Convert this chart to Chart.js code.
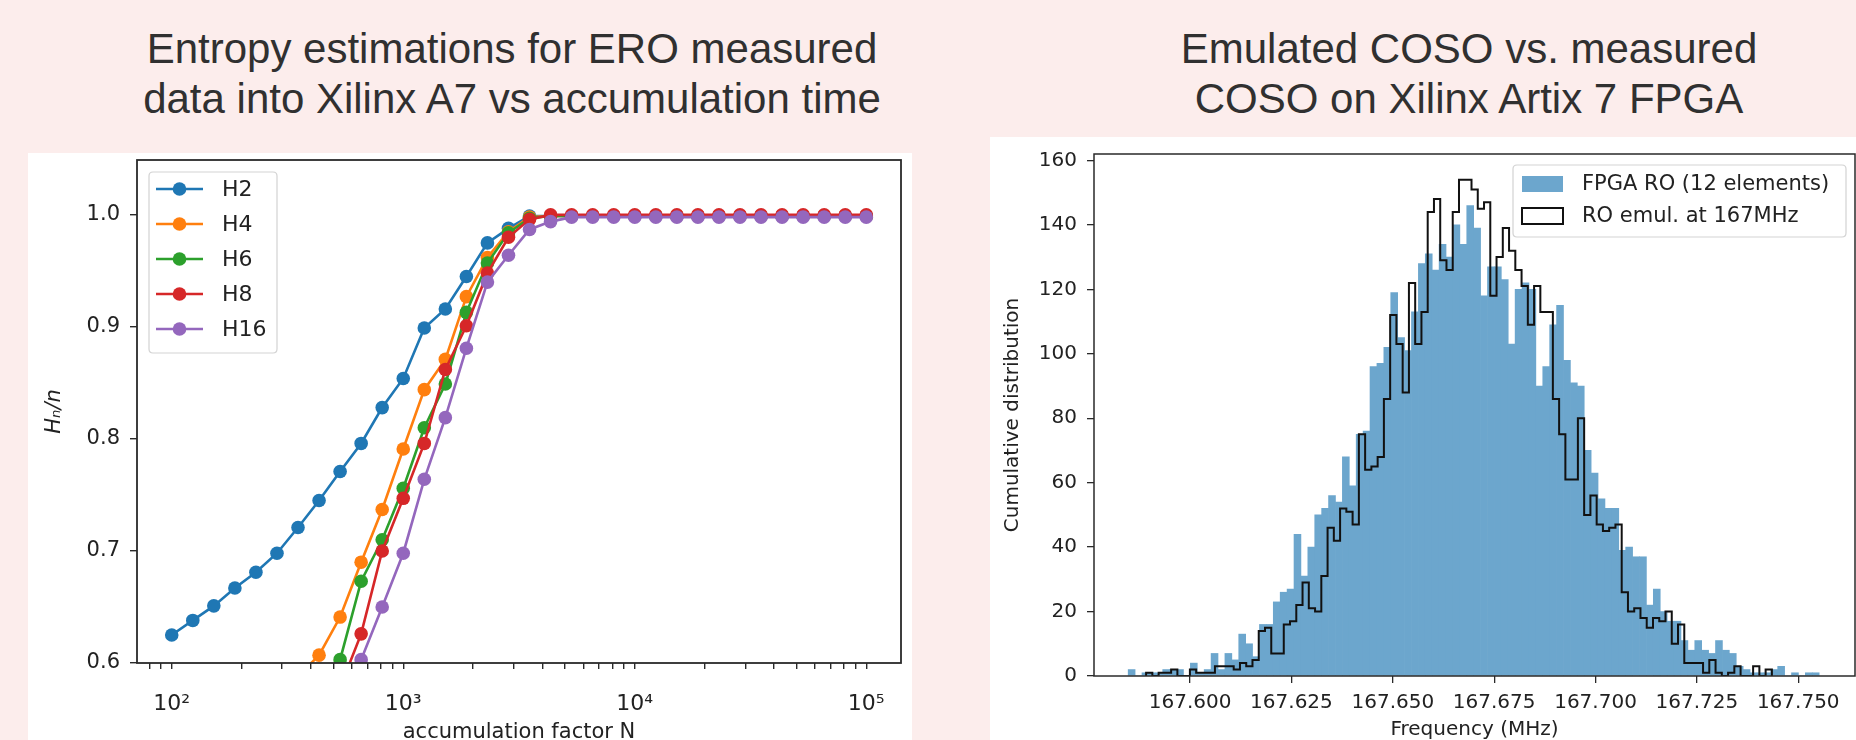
<!DOCTYPE html>
<html>
<head>
<meta charset="utf-8">
<script src="https://cdn.jsdelivr.net/npm/chart.js@4/dist/chart.umd.min.js"></script>
<style>
html, body { margin:0; padding:0; width:1856px; height:740px; overflow:hidden; background:#fcedec; }
.title { position:absolute; font-family:"Liberation Sans", Arial, sans-serif; font-size:42px; color:#303030;
  text-align:center; line-height:50px; white-space:nowrap; width:800px; top:24px; }
.panel { position:absolute; background:#ffffff; }
canvas { display:block; }
</style>
</head>
<body>
<div class="title" style="left:112px;">Entropy estimations for ERO measured<br>data into Xilinx A7 vs accumulation time</div>
<div class="title" style="left:1069px;">Emulated COSO vs. measured<br>COSO on Xilinx Artix 7 FPGA</div>
<div class="panel" style="left:28px;top:153px;width:884px;height:620px;"><canvas id="left" width="884" height="620" style="width:884px;height:620px;"></canvas></div>
<div class="panel" style="left:990px;top:137px;width:866px;height:636px;"><canvas id="right" width="866" height="636" style="width:866px;height:636px;"></canvas></div>
<script>
// ---------------- Left chart data ----------------
const accumN = [100, 123.3, 152.0, 187.4, 231.0, 284.8, 351.1, 432.9, 533.7, 657.9, 811.1,
  1000, 1232.8, 1519.9, 1873.8, 2310.1, 2848.0, 3511.2, 4328.8, 5336.7, 6579.3, 8111.3,
  10000, 12328, 15199, 18738, 23101, 28480, 35112, 43288, 53367, 65793, 81113, 100000];
const H2 = [0.625, 0.638, 0.651, 0.667, 0.681, 0.698, 0.721, 0.745, 0.771, 0.796, 0.828,
  0.854, 0.899, 0.916, 0.945, 0.975, 0.988, 0.999, 0.999, 0.999, 0.999, 0.999,
  0.999, 0.999, 0.999, 0.999, 0.999, 0.999, 0.999, 0.999, 0.999, 0.999, 0.999, 0.999];
const H4 = [0.40, 0.43, 0.46, 0.49, 0.52, 0.55, 0.588, 0.607, 0.641, 0.690, 0.737,
  0.791, 0.844, 0.871, 0.927, 0.962, 0.985, 0.998, 0.999, 0.999, 0.999, 0.999,
  0.999, 0.999, 0.999, 0.999, 0.999, 0.999, 0.999, 0.999, 0.999, 0.999, 0.999, 0.999];
const H6 = [0.30, 0.34, 0.38, 0.42, 0.46, 0.50, 0.53, 0.575, 0.603, 0.673, 0.710,
  0.756, 0.810, 0.849, 0.913, 0.957, 0.984, 0.997, 0.999, 0.999, 0.999, 0.999,
  0.999, 0.999, 0.999, 0.999, 0.999, 0.999, 0.999, 0.999, 0.999, 0.999, 0.999, 0.999];
const H8 = [0.28, 0.32, 0.36, 0.40, 0.44, 0.48, 0.52, 0.55, 0.578, 0.626, 0.700,
  0.747, 0.796, 0.862, 0.901, 0.948, 0.980, 0.996, 1.0, 1.0, 1.0, 1.0,
  1.0, 1.0, 1.0, 1.0, 1.0, 1.0, 1.0, 1.0, 1.0, 1.0, 1.0, 1.0];
const H16 = [0.26, 0.30, 0.34, 0.38, 0.42, 0.46, 0.50, 0.54, 0.572, 0.603, 0.650,
  0.698, 0.764, 0.819, 0.881, 0.940, 0.964, 0.987, 0.994, 0.998, 0.998, 0.998,
  0.998, 0.998, 0.998, 0.998, 0.998, 0.998, 0.998, 0.998, 0.998, 0.998, 0.998, 0.998];
const seriesNames = ['H2', 'H4', 'H6', 'H8', 'H16'];
const yTicksLeft = [0.6, 0.7, 0.8, 0.9, 1.0];
const logMajorTicks = [100, 1000, 10000, 100000];
const logTickLabels = ['10²', '10³', '10⁴', '10⁵'];

// ---------------- Right chart data ----------------
const fpgaBinStart = 167.58473;
const fpgaBinWidth = 0.0017043;
const fpgaCounts = [
  2, 0, 1, 1, 1, 2, 2, 2, 0, 4,
  1, 2, 7, 2, 7, 5, 13, 10, 6, 16,
  16, 23, 26, 27, 44, 31, 40, 50, 52, 56,
  54, 68, 59, 75, 76, 96, 97, 102, 119, 105,
  101, 113, 128, 131, 126, 134, 130, 140, 134, 146,
  139, 118, 127, 127, 123, 103, 120, 122, 120, 90,
  96, 109, 115, 98, 91, 90, 70, 63, 55, 52,
  52, 39, 40, 37, 37, 22, 27, 20, 17, 17,
  11, 8, 11, 8, 7, 11, 8, 7, 3, 2,
  1, 1, 1, 2, 3, 0, 1, 0, 1, 1];
const emulBinStart = 167.58915;
const emulBinWidth = 0.0015435;
const emulCounts = [
  1, 0, 1, 1, 2, 0, 0, 2, 1, 1,
  1, 3, 3, 3, 2, 4, 3, 5, 14, 15,
  7, 7, 16, 17, 22, 29, 21, 20, 31, 46,
  42, 52, 51, 47, 75, 64, 65, 68, 86, 112,
  103, 88, 122, 103, 113, 144, 148, 129, 126, 144,
  154, 154, 151, 145, 147, 118, 130, 139, 132, 126,
  121, 109, 121, 113, 113, 86, 75, 61, 61, 80,
  50, 56, 47, 45, 46, 47, 26, 20, 21, 18,
  15, 18, 17, 20, 10, 16, 4, 4, 4, 1,
  5, 1, 0, 1, 3, 0, 0, 3, 0, 2];
const freqTicks = [167.600, 167.625, 167.650, 167.675, 167.700, 167.725, 167.750];
const countTicks = [0, 20, 40, 60, 80, 100, 120, 140, 160];
const histNames = ['FPGA RO (12 elements)', 'RO emul. at 167MHz'];

// ---------------- helpers / plugins ----------------
const FONT = 'DejaVu Sans';
const TEXT = '#222222';

function rr(ctx, x, y, w, h, r) {
  ctx.beginPath();
  ctx.moveTo(x + r, y); ctx.lineTo(x + w - r, y); ctx.quadraticCurveTo(x + w, y, x + w, y + r);
  ctx.lineTo(x + w, y + h - r); ctx.quadraticCurveTo(x + w, y + h, x + w - r, y + h);
  ctx.lineTo(x + r, y + h); ctx.quadraticCurveTo(x, y + h, x, y + h - r);
  ctx.lineTo(x, y + r); ctx.quadraticCurveTo(x, y, x + r, y); ctx.closePath();
}

const framePlugin = {
  id: 'frame',
  afterDatasetsDraw(chart, args, o) {
    const {ctx, chartArea: a} = chart;
    ctx.save();
    ctx.strokeStyle = o.color || '#2a2a2a';
    ctx.lineWidth = o.width || 1.6;
    ctx.strokeRect(a.left, a.top, a.right - a.left, a.bottom - a.top);
    ctx.restore();
  }
};

const lineLegend = {
  id: 'lineLegend',
  afterDraw(chart, args, o) {
    const {ctx, chartArea: a} = chart;
    const x0 = a.left + o.dx, y0 = a.top + o.dy;
    ctx.save();
    rr(ctx, x0, y0, o.w, o.h, 4);
    ctx.fillStyle = 'rgba(255,255,255,0.8)'; ctx.fill();
    ctx.strokeStyle = '#d3d3d3'; ctx.lineWidth = 1.2; ctx.stroke();
    chart.data.datasets.forEach((ds, i) => {
      const cy = y0 + o.first + o.step * i;
      ctx.strokeStyle = ds.borderColor; ctx.lineWidth = ds.borderWidth;
      ctx.beginPath(); ctx.moveTo(x0 + 7, cy); ctx.lineTo(x0 + 54, cy); ctx.stroke();
      ctx.fillStyle = ds.borderColor;
      ctx.beginPath(); ctx.arc(x0 + 30.5, cy, ds.pointRadius, 0, Math.PI * 2); ctx.fill();
      ctx.fillStyle = TEXT; ctx.font = o.font; ctx.textBaseline = 'middle'; ctx.textAlign = 'left';
      ctx.fillText(ds.label, x0 + 73, cy + 1);
    });
    ctx.restore();
  }
};

const histLegend = {
  id: 'histLegend',
  afterDraw(chart, args, o) {
    const {ctx, chartArea: a} = chart;
    const x0 = a.right - o.dxRight - o.w, y0 = a.top + o.dy;
    ctx.save();
    rr(ctx, x0, y0, o.w, o.h, 4);
    ctx.fillStyle = 'rgba(255,255,255,0.8)'; ctx.fill();
    ctx.strokeStyle = '#d3d3d3'; ctx.lineWidth = 1.2; ctx.stroke();
    const dsBar = chart.data.datasets[0], dsLine = chart.data.datasets[1];
    let cy = y0 + o.first;
    ctx.fillStyle = dsBar.backgroundColor;
    ctx.fillRect(x0 + 9, cy - 8, 41, 16);
    ctx.fillStyle = TEXT; ctx.font = o.font; ctx.textBaseline = 'middle'; ctx.textAlign = 'left';
    ctx.fillText(dsBar.label, x0 + 69, cy + 1);
    cy += o.step;
    ctx.strokeStyle = dsLine.borderColor; ctx.lineWidth = dsLine.borderWidth;
    ctx.strokeRect(x0 + 9, cy - 8, 41, 16);
    ctx.fillStyle = TEXT;
    ctx.fillText(dsLine.label, x0 + 69, cy + 1);
    ctx.restore();
  }
};

function fixVertical(width) {
  return function (s) { s.width = width; s.paddingTop = 0; s.paddingBottom = 0; };
}
function fixHorizontal(height) {
  return function (s) { s.height = height; s.paddingLeft = 0; s.paddingRight = 0; };
}

// ---------------- Left chart ----------------
const colors = ['#1f77b4', '#ff7f0e', '#2ca02c', '#d62728', '#9467bd'];
const seriesVals = [H2, H4, H6, H8, H16];
const leftDatasets = seriesVals.map((vals, i) => ({
  type: 'line',
  label: seriesNames[i],
  data: accumN.map((n, k) => ({x: n, y: vals[k]})),
  borderColor: colors[i],
  backgroundColor: colors[i],
  pointBackgroundColor: colors[i],
  pointBorderWidth: 0,
  pointRadius: 6.8,
  borderWidth: 2.6,
  tension: 0,
  order: 5 - i
}));

new Chart(document.getElementById('left'), {
  type: 'line',
  data: { datasets: leftDatasets },
  options: {
    responsive: false, animation: false, events: [],
    layout: { padding: { left: 0, top: 7, right: 11, bottom: 0 } },
    plugins: {
      legend: { display: false }, tooltip: { enabled: false },
      frame: { color: '#2a2a2a', width: 1.8 },
      lineLegend: { dx: 12, dy: 12, w: 128, h: 181, first: 17, step: 35, font: '22px "DejaVu Sans"' }
    },
    scales: {
      x: {
        type: 'logarithmic', min: 70.79, max: 141254,
        afterBuildTicks(axis) {
          axis.ticks = axis.ticks.filter(t => {
            const v = t.value; if (v < 70.79 || v > 141254) return false;
            const p = Math.pow(10, Math.floor(Math.log10(v) + 1e-9));
            const s = v / p; return Math.abs(s - Math.round(s)) < 1e-6;
          });
        },
        afterFit: fixHorizontal(110),
        ticks: {
          autoSkip: false, maxRotation: 0, padding: 22, color: TEXT,
          font: { family: FONT, size: 22 },
          callback(v) { const i = logMajorTicks.indexOf(v); return i >= 0 ? logTickLabels[i] : ''; }
        },
        grid: { display: true, drawOnChartArea: false, drawTicks: true, tickLength: 6, color: '#2a2a2a', lineWidth: 1.4 },
        border: { display: false },
        title: { display: true, text: 'accumulation factor N', color: TEXT,
          font: { family: FONT, size: 21 }, padding: { top: 0, bottom: 28 } }
      },
      y: {
        type: 'linear', min: 0.6, max: 1.049,
        afterBuildTicks(axis) { axis.ticks = yTicksLeft.map(v => ({value: v})); },
        afterFit: fixVertical(109),
        ticks: { padding: 10, color: TEXT, font: { family: FONT, size: 21 }, callback: v => v.toFixed(1) },
        grid: { display: true, drawOnChartArea: false, drawTicks: true, tickLength: 7, color: '#2a2a2a', lineWidth: 1.4 },
        border: { display: false },
        title: { display: true, text: 'Hₙ/n', color: TEXT,
          font: { family: FONT, size: 21, style: 'italic' }, padding: { top: 14, bottom: 0 } }
      }
    }
  },
  plugins: [framePlugin, lineLegend]
});

// ---------------- Right chart ----------------
const fpgaData = fpgaCounts.map((c, k) => ({x: fpgaBinStart + fpgaBinWidth * (k + 0.5), y: c}));
const emulEdges = emulCounts.map((c, j) => emulBinStart + emulBinWidth * j);
const emulEnd = emulBinStart + emulBinWidth * emulCounts.length;
const emulData = [{x: emulBinStart, y: 0}]
  .concat(emulCounts.map((c, j) => ({x: emulEdges[j], y: c})))
  .concat([{x: emulEnd, y: 0}]);

new Chart(document.getElementById('right'), {
  type: 'bar',
  data: {
    datasets: [
      { type: 'bar', label: histNames[0], data: fpgaData, backgroundColor: '#6ca6cd',
        borderWidth: 0, barPercentage: 1, categoryPercentage: 1, grouped: false, order: 2 },
      { type: 'line', label: histNames[1], data: emulData, borderColor: '#111111', borderWidth: 2,
        stepped: 'before', pointRadius: 0, fill: false, tension: 0, order: 1 }
    ]
  },
  options: {
    responsive: false, animation: false, events: [],
    layout: { padding: { left: 0, top: 17, right: 1, bottom: 0 } },
    plugins: {
      legend: { display: false }, tooltip: { enabled: false },
      frame: { color: '#2a2a2a', width: 1.5 },
      histLegend: { dxRight: 9, dy: 11, w: 333, h: 72, first: 19, step: 32, font: '21px "DejaVu Sans"' }
    },
    scales: {
      x: {
        type: 'linear', min: 167.5763, max: 167.764, offset: false,
        afterBuildTicks(axis) { axis.ticks = freqTicks.map(v => ({value: v})); },
        afterFit: fixHorizontal(97),
        ticks: { autoSkip: false, maxRotation: 0, padding: 8, color: TEXT,
          font: { family: FONT, size: 20 }, callback: v => v.toFixed(3) },
        grid: { display: true, offset: false, drawOnChartArea: false, drawTicks: true, tickLength: 7, color: '#2a2a2a', lineWidth: 1.3 },
        border: { display: false },
        title: { display: true, text: 'Frequency (MHz)', color: TEXT,
          font: { family: FONT, size: 20 }, padding: { top: 0, bottom: 31 } }
      },
      y: {
        type: 'linear', min: 0, max: 162,
        afterBuildTicks(axis) { axis.ticks = countTicks.map(v => ({value: v})); },
        afterFit: fixVertical(104),
        ticks: { padding: 10, color: TEXT, font: { family: FONT, size: 20 } },
        grid: { display: true, drawOnChartArea: false, drawTicks: true, tickLength: 7, color: '#2a2a2a', lineWidth: 1.3 },
        border: { display: false },
        title: { display: true, text: 'Cumulative distribution', color: TEXT,
          font: { family: FONT, size: 20 }, padding: { top: 11, bottom: 0 } }
      }
    }
  },
  plugins: [framePlugin, histLegend]
});
</script>
</body>
</html>
